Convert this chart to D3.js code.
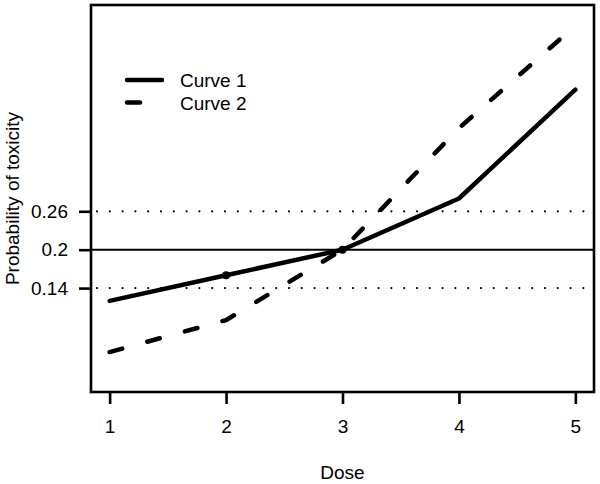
<!DOCTYPE html>
<html><head><meta charset="utf-8">
<script src="https://cdn.jsdelivr.net/npm/d3@7"></script>
<style>body{margin:0;background:#fff}svg{display:block;font-family:"Liberation Sans",Arial,sans-serif}</style>
</head><body><svg id="c" width="600" height="484"></svg>
<script>
const doses = [1, 2, 3, 4, 5];
const curve1 = [0.12, 0.16, 0.20, 0.28, 0.45];
const curve2 = [0.04, 0.09, 0.20, 0.39, 0.55];
const yTicks = [0.14, 0.2, 0.26];
const yTickLabels = ["0.14", "0.2", "0.26"];
const dotPoints = [[2, 0.16], [3, 0.20]];
const seriesNames = ["Curve 1", "Curve 2"];

const FS = 19;
const svg = d3.select("#c");
const L = 91, R = 594, T = 5, B = 392;
const x = d3.scaleLinear().domain([0.84, 5.16]).range([L, R]);
const y = d3.scaleLinear().domain([-0.0224, 0.5824]).range([B, T]);

// reference lines
svg.append("line").attr("x1", L).attr("x2", R).attr("y1", y(0.2)).attr("y2", y(0.2))
  .attr("stroke", "#000").attr("stroke-width", 2);
[0.26, 0.14].forEach(v => {
  svg.append("line").attr("x1", L + 6).attr("x2", R).attr("y1", y(v)).attr("y2", y(v))
    .attr("stroke", "#000").attr("stroke-width", 2.2).attr("stroke-dasharray", "0,12.8")
    .attr("stroke-linecap", "round");
});

const line = d3.line().x((d, i) => x(doses[i])).y(d => y(d));
svg.append("path").datum(curve1).attr("d", line).attr("fill", "none")
  .attr("stroke", "#000").attr("stroke-width", 4.5).attr("stroke-linejoin", "round").attr("stroke-linecap", "round");
svg.append("path").datum(curve2).attr("d", line).attr("fill", "none")
  .attr("stroke", "#000").attr("stroke-width", 4.5).attr("stroke-dasharray", "13,26").attr("stroke-linecap", "round");

svg.selectAll("circle.pt").data(dotPoints).enter().append("circle").attr("class", "pt")
  .attr("cx", d => x(d[0])).attr("cy", d => y(d[1])).attr("r", 4).attr("fill", "#000");

// box
svg.append("rect").attr("x", L).attr("y", T).attr("width", R - L).attr("height", B - T)
  .attr("fill", "none").attr("stroke", "#000").attr("stroke-width", 2.6);

// x axis
const xa = svg.append("g").attr("transform", `translate(0,${B})`)
  .call(d3.axisBottom(x).tickValues(doses).tickFormat(d3.format("d")).tickSize(12).tickPadding(16));
xa.select(".domain").remove();
xa.selectAll("line").attr("stroke-width", 2.6);
xa.selectAll("text").attr("font-size", FS).attr("font-family", "Liberation Sans, Arial, sans-serif").attr("fill", "#000");

// y axis
const ya = svg.append("g").attr("transform", `translate(${L},0)`)
  .call(d3.axisLeft(y).tickValues(yTicks).tickFormat((d, i) => yTickLabels[i]).tickSize(12).tickPadding(11));
ya.select(".domain").remove();
ya.selectAll("line").attr("stroke-width", 2.6);
ya.selectAll("text").attr("font-size", FS).attr("font-family", "Liberation Sans, Arial, sans-serif").attr("fill", "#000");

// titles
svg.append("text").attr("x", (L + R) / 2).attr("y", 479).attr("text-anchor", "middle")
  .attr("font-size", FS).text("Dose");
svg.append("text").attr("transform", `translate(19,${(T + B) / 2}) rotate(-90)`).attr("text-anchor", "middle")
  .attr("font-size", FS).text("Probability of toxicity");

// legend
const leg = svg.append("g");
seriesNames.forEach((n, i) => {
  const yy = 80 + i * 22.5;
  leg.append("line").attr("x1", 127).attr("x2", i === 0 ? 162 : 140).attr("y1", yy).attr("y2", yy)
    .attr("stroke", "#000").attr("stroke-width", 4.5).attr("stroke-linecap", "round");
  leg.append("text").attr("x", 180).attr("y", yy + 7).attr("font-size", FS).text(n);
});
</script></body></html>
